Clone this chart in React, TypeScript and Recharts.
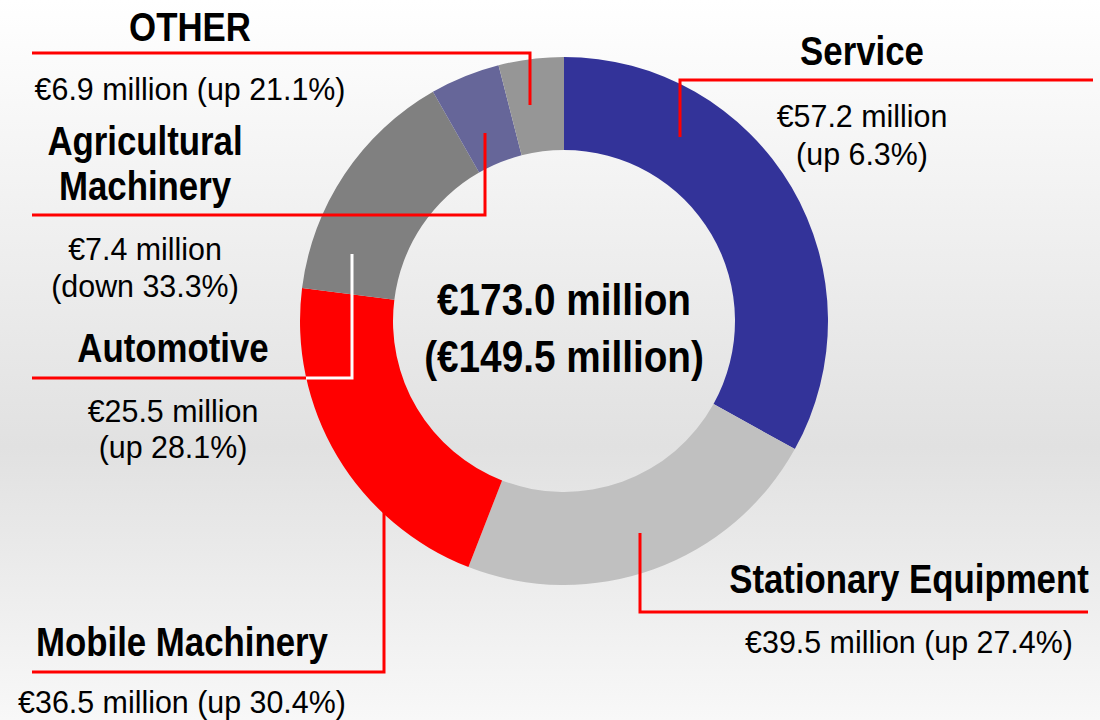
import { PieChart, Pie, Cell, Label } from "recharts";

const categories = [
  "Service",
  "Stationary Equipment",
  "Mobile Machinery",
  "Automotive",
  "Agricultural Machinery",
  "OTHER",
];
const revenue = [57.2, 39.5, 36.5, 25.5, 7.4, 6.9];
const changes = ["up 6.3%", "up 27.4%", "up 30.4%", "up 28.1%", "down 33.3%", "up 21.1%"];
const totalLabel = "€173.0 million";
const priorTotalLabel = "(€149.5 million)";

const COLORS = ["#333399", "#c0c0c0", "#ff0000", "#808080", "#666699", "#969696"];
const FONT = "'Liberation Sans', Arial, sans-serif";

// label placement (text centre x, baselines, leader polyline)
const LAYOUT = [
  { x: 862, nameLines: 1, nameY: [65], valueY: [127, 165], leader: [[680, 137], [680, 80], [1093, 80]] },
  { x: 909, nameLines: 1, nameY: [593], valueY: [653], leader: [[640, 533], [640, 612], [1088, 612]] },
  { x: 182, nameLines: 1, nameY: [656], valueY: [713], leader: [[384, 512], [384, 672], [32, 672]] },
  {
    x: 173, nameLines: 1, nameY: [362], valueY: [422, 458],
    leader: [[306, 378], [32, 378]],
    inner: [[352, 254], [352, 378], [306, 378]],
  },
  { x: 145, nameLines: 2, nameY: [155, 200], valueY: [260, 297], leader: [[485, 133], [485, 215], [32, 215]] },
  { x: 190, nameLines: 1, nameY: [41], valueY: [100], leader: [[530, 105], [530, 53], [32, 53]] },
];

const data = categories.map((name, i) => ({ name, value: revenue[i], change: changes[i] }));

const pts = (p: number[][]) => p.map((q) => q.join(",")).join(" ");

// condensed text: scale the glyphs horizontally around the anchor
const NarrowText = ({ x, y, size, bold, squeeze, children }: any) => (
  <text
    x={0}
    y={0}
    transform={`translate(${x},${y}) scale(${squeeze},1)`}
    textAnchor="middle"
    fontFamily={FONT}
    fontWeight={bold ? "bold" : "normal"}
    fontSize={size}
    fill="#000"
  >
    {children}
  </text>
);

const renderLabel = (props: any) => {
  const i = props.index;
  const l = LAYOUT[i];
  const d = data[i];
  const names = l.nameLines === 2 ? d.name.split(" ") : [d.name];
  const amount = `€${d.value.toFixed(1)} million`;
  const chg = `(${d.change})`;
  const values = l.valueY.length === 2 ? [amount, chg] : [`${amount} ${chg}`];
  return (
    <g key={`lbl-${i}`}>
      <polyline points={pts(l.leader)} fill="none" stroke="#ff0000" strokeWidth={3} />
      {l.inner && <polyline points={pts(l.inner)} fill="none" stroke="#ffffff" strokeWidth={3} />}
      {names.map((t, k) => (
        <NarrowText key={`n${k}`} x={l.x} y={l.nameY[k]} size={40} bold squeeze={0.87}>
          {t}
        </NarrowText>
      ))}
      {values.map((t, k) => (
        <NarrowText key={`v${k}`} x={l.x} y={l.valueY[k]} size={32} squeeze={0.95}>
          {t}
        </NarrowText>
      ))}
    </g>
  );
};

const CenterText = (props: any) => {
  const vb = props.viewBox || {};
  const cx = vb.cx ?? 564;
  const cy = vb.cy ?? 321;
  return (
    <g>
      <NarrowText x={cx} y={cy - 6} size={44} bold squeeze={0.88}>
        {totalLabel}
      </NarrowText>
      <NarrowText x={cx} y={cy + 51} size={44} bold squeeze={0.88}>
        {priorTotalLabel}
      </NarrowText>
    </g>
  );
};

export default function App() {
  return (
    <div
      style={{
        position: "absolute",
        left: 0,
        top: 0,
        width: 1100,
        height: 720,
        background: "linear-gradient(to bottom, #ffffff 0%, #e1e1e1 62%, #f8f8f8 100%)",
      }}
    >
      <PieChart width={1100} height={720} margin={{ top: 0, right: 0, bottom: 0, left: 0 }}>
        <Pie
          data={data}
          dataKey="value"
          nameKey="name"
          cx={564}
          cy={321}
          innerRadius={171}
          outerRadius={264}
          startAngle={90}
          endAngle={-270}
          stroke="none"
          labelLine={false}
          label={renderLabel}
          isAnimationActive={false}
        >
          {data.map((entry, index) => (
            <Cell key={`cell-${index}`} fill={COLORS[index % COLORS.length]} />
          ))}
          <Label position="center" content={CenterText} />
        </Pie>
      </PieChart>
    </div>
  );
}
